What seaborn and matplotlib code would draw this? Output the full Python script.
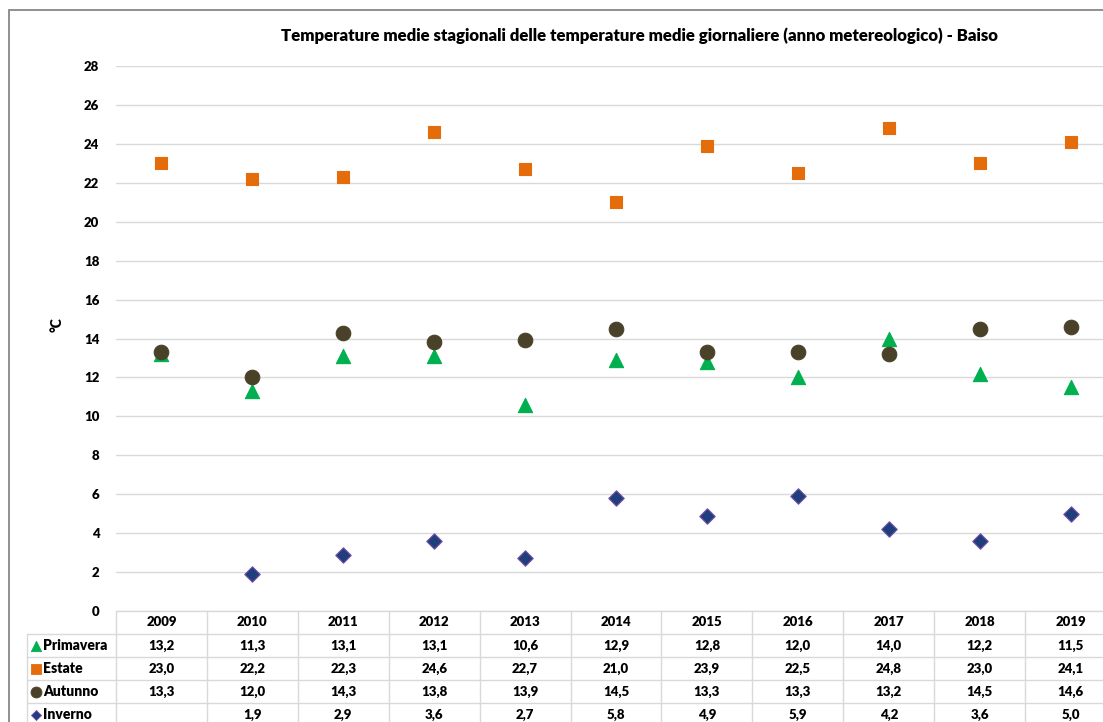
#!/usr/bin/env python3
"""Seasonal mean temperatures at Baiso, Excel-style scatter with data table."""

import matplotlib

matplotlib.use("Agg")

import matplotlib.pyplot as plt
from matplotlib.patches import Rectangle
import numpy as np
import pandas as pd
import seaborn as sns

YEARS = [2009, 2010, 2011, 2012, 2013, 2014, 2015, 2016, 2017, 2018, 2019]
PRIMAVERA = [13.2, 11.3, 13.1, 13.1, 10.6, 12.9, 12.8, 12.0, 14.0, 12.2, 11.5]
ESTATE = [23.0, 22.2, 22.3, 24.6, 22.7, 21.0, 23.9, 22.5, 24.8, 23.0, 24.1]
AUTUNNO = [13.3, 12.0, 14.3, 13.8, 13.9, 14.5, 13.3, 13.3, 13.2, 14.5, 14.6]
INVERNO = [np.nan, 1.9, 2.9, 3.6, 2.7, 5.8, 4.9, 5.9, 4.2, 3.6, 5.0]
SEASONS = ["Primavera", "Estate", "Autunno", "Inverno"]
Y_TICKS = list(range(0, 29, 2))

TITLE = ("Temperature medie stagionali delle temperature medie giornaliere "
         "(anno metereologico) - Baiso")

COLORS = {"Primavera": "#00B050", "Estate": "#E46C0A",
          "Autunno": "#4A4228", "Inverno": "#1F3E7C"}
EDGES = {"Primavera": "#00B050", "Estate": "#E46C0A",
         "Autunno": "#4A4228", "Inverno": "#7A4FA8"}
MARKERS = {"Primavera": "^", "Estate": "s", "Autunno": "o", "Inverno": "D"}
SIZES = {"Primavera": 105, "Estate": 80, "Autunno": 110, "Inverno": 62}
KEY_SIZES = {"Primavera": 55, "Estate": 62, "Autunno": 62, "Inverno": 26}
GRID = "#D9D9D9"
TEXT = "#000000"
WEIGHT = "heavy"

sns.set_theme(style="white")
plt.rcParams["font.family"] = ["Lato", "DejaVu Sans"]

values = {"Primavera": PRIMAVERA, "Estate": ESTATE,
          "Autunno": AUTUNNO, "Inverno": INVERNO}
data = pd.concat(
    [pd.DataFrame({"anno": YEARS, "temp": values[s], "stagione": s}) for s in SEASONS],
    ignore_index=True,
)

W, H = 1103, 722
fig = plt.figure(figsize=(W / 100, H / 100), dpi=100)

# chart frame, cropped at right and bottom like the source
fig.add_artist(Rectangle((9 / W, -0.2), 1.5, 0.2 + (H - 10) / H,
                         transform=fig.transFigure, fill=False,
                         edgecolor="#878787", linewidth=1.3))

left, right = 116, 1116
ax = fig.add_axes([left / W, (H - 611) / H, (right - left) / W, 545 / H])
for season in SEASONS:
    sub = data[data["stagione"] == season]
    sns.scatterplot(data=sub, x="anno", y="temp", ax=ax, marker=MARKERS[season],
                    s=SIZES[season], color=COLORS[season],
                    edgecolor=EDGES[season], linewidth=0.8, legend=False, zorder=3)

ax.set_xlim(YEARS[0] - 0.5, YEARS[-1] + 0.5)
ax.set_ylim(0, 28)
ax.set_yticks(Y_TICKS)
ax.set_yticklabels([str(t) for t in Y_TICKS], fontsize=9.5, fontweight=WEIGHT, color=TEXT)
ax.set_xticks([])
ax.set_xlabel("")
ax.set_ylabel("")
ax.tick_params(axis="y", length=0, pad=12)
for sp in ax.spines.values():
    sp.set_visible(False)
ax.set_axisbelow(True)
ax.grid(axis="y", color=GRID, linewidth=1.0)
ax.grid(axis="x", visible=False)

fig.text(57 / W, 1 - 325 / H, "°C", rotation=90, ha="center", va="center",
         fontsize=10, fontweight=WEIGHT, color=TEXT)
fig.text(639 / W, 1 - 36 / H, TITLE, ha="center", va="center",
         fontsize=12.1, fontweight=WEIGHT, color=TEXT)

# data table below the plot area
row_h = 23
tab = fig.add_axes([left / W, (H - 611 - 5 * row_h) / H, (right - left) / W, 5 * row_h / H])
tab.set_xlim(YEARS[0] - 0.5, YEARS[-1] + 0.5)
tab.set_ylim(5, 0)
tab.axis("off")
unit = (right - left) / len(YEARS)
key_left = YEARS[0] - 0.5 - (left - 27) / unit

line_kw = dict(color=GRID, linewidth=1.0, clip_on=False)
tab.plot([YEARS[0] - 0.5, YEARS[-1] + 0.5], [0, 0], **line_kw)
for r in range(1, 5):
    tab.plot([key_left, YEARS[-1] + 0.5], [r, r], **line_kw)
tab.plot([key_left, key_left], [1, 5], **line_kw)
for i in range(len(YEARS) + 1):
    x = YEARS[0] - 0.5 + i
    tab.plot([x, x], [0, 5], **line_kw)

for year in YEARS:
    tab.text(year, 0.5, str(year), ha="center", va="center",
             fontsize=9.5, fontweight=WEIGHT, color=TEXT)

for r, season in enumerate(SEASONS, start=1):
    mx = key_left + 9 / unit
    tab.scatter([mx], [r + 0.5], marker=MARKERS[season], s=KEY_SIZES[season],
                color=COLORS[season], edgecolor=EDGES[season], linewidth=0.6,
                clip_on=False)
    tab.text(key_left + 16 / unit, r + 0.5, season, ha="left", va="center",
             fontsize=10, fontweight=WEIGHT, color=TEXT)
    for year, v in zip(YEARS, values[season]):
        if np.isnan(v):
            continue
        tab.text(year, r + 0.5, f"{v:.1f}".replace(".", ","), ha="center",
                 va="center", fontsize=9.5, fontweight=WEIGHT, color=TEXT)

fig.savefig("out.png", dpi=100)
